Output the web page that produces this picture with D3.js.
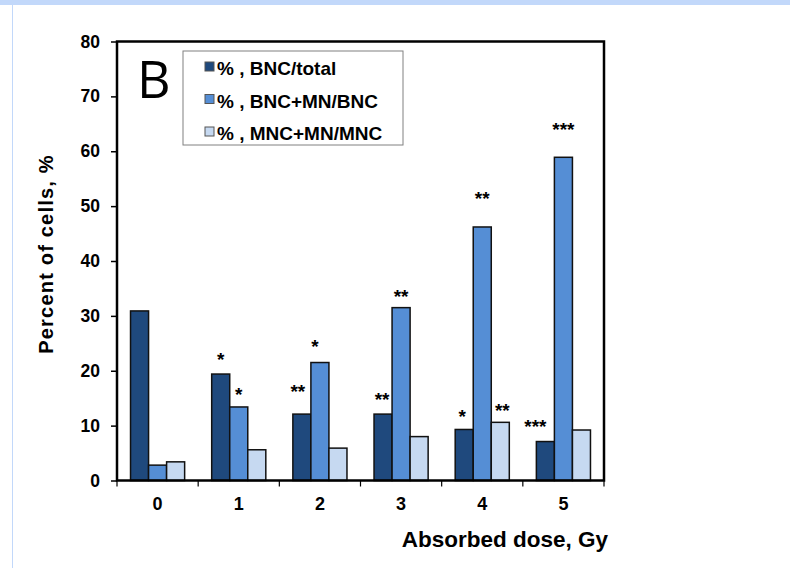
<!DOCTYPE html>
<html>
<head>
<meta charset="utf-8">
<script src="https://cdn.jsdelivr.net/npm/d3@7"></script>
<style>
  html, body { margin: 0; padding: 0; background: #fff; }
  svg { display: block; font-family: Arial, "Liberation Sans", sans-serif; }
</style>
</head>
<body>
<svg id="chart" width="790" height="568"></svg>
<script>
// dose categories (Gy)
const doses = ['0', '1', '2', '3', '4', '5'];
const seriesNames = ['% , BNC/total', '% , BNC+MN/BNC', '% , MNC+MN/MNC'];
const bncTotal = [30.9, 19.4, 12.1, 12.1, 9.3, 7.1];
const bncMnBnc = [2.8, 13.4, 21.5, 31.5, 46.2, 58.9];
const mncMnMnc = [3.4, 5.6, 5.9, 8.0, 10.6, 9.2];
const seriesColors = ['#1f497d', '#558ed5', '#c6d9f1'];
const yTicks = [0, 10, 20, 30, 40, 50, 60, 70, 80];
// significance marks: [dose, series index, label, level in %, nudge px]
const marks = [
  ['1', 0, '*', 22.9, 0], ['1', 1, '*', 16.5, 0],
  ['2', 0, '**', 17.0, -4], ['2', 1, '*', 25.2, -5],
  ['3', 0, '**', 15.5, -1], ['3', 1, '**', 34.4, 0],
  ['4', 0, '*', 12.4, -2], ['4', 1, '**', 52.2, 0], ['4', 2, '**', 13.6, 2],
  ['5', 0, '***', 10.7, -10], ['5', 1, '***', 64.8, 0]
];

const series = [bncTotal, bncMnBnc, mncMnMnc];
const svg = d3.select('#chart');

// page decoration (slide edge)
svg.append('rect').attr('x', 0).attr('y', 0).attr('width', 790).attr('height', 5).attr('fill', '#c2d8fa');
svg.append('rect').attr('x', 12).attr('y', 5).attr('width', 1).attr('height', 563).attr('fill', '#c2d8fa');

const pl = 117, pr = 604, pt = 41.5, pb = 480.5;
const x = d3.scaleBand().domain(doses).range([pl, pr]);
const bw = x.bandwidth();
const x1 = d3.scaleBand().domain([0, 1, 2]).range([bw / 6, bw * 5 / 6]);
const y = d3.scaleLinear().domain([0, 80]).range([pb, pt]);

// bars
const groups = svg.append('g').selectAll('g').data(doses).join('g')
  .attr('transform', d => `translate(${x(d)},0)`);
groups.selectAll('rect').data((d, i) => series.map((s, k) => ({ k, v: s[i] }))).join('rect')
  .attr('x', d => x1(d.k))
  .attr('y', d => y(d.v))
  .attr('width', x1.bandwidth())
  .attr('height', d => y(0) - y(d.v))
  .attr('fill', d => seriesColors[d.k])
  .attr('stroke', '#111')
  .attr('stroke-width', 1.5);

// significance asterisks
svg.append('g').selectAll('text').data(marks).join('text')
  .attr('x', d => x(d[0]) + x1(d[1]) + x1.bandwidth() / 2 + d[4])
  .attr('y', d => y(d[3]) + 11)
  .attr('text-anchor', 'middle')
  .attr('font-size', 19).attr('font-weight', 'bold').attr('fill', '#000')
  .text(d => d[2]);

// y axis
const yAxis = svg.append('g').attr('transform', `translate(${pl},0)`)
  .call(d3.axisLeft(y).tickValues(yTicks).tickSize(6).tickSizeOuter(0).tickPadding(11));
yAxis.select('.domain').remove();
yAxis.selectAll('line').attr('stroke', '#000').attr('stroke-width', 1.5);
yAxis.selectAll('text').attr('font-size', 17.5).attr('font-weight', 'bold').attr('fill', '#000')
  .attr('font-family', 'Arial, "Liberation Sans", sans-serif');

// x axis ticks at category boundaries
const xb = doses.map(d => x(d)).concat([pr]);
svg.append('g').selectAll('line').data(xb).join('line')
  .attr('x1', d => d).attr('x2', d => d)
  .attr('y1', pb).attr('y2', pb + 6)
  .attr('stroke', '#000').attr('stroke-width', 1.2);
svg.append('g').selectAll('text').data(doses).join('text')
  .attr('x', d => x(d) + bw / 2)
  .attr('y', 510)
  .attr('text-anchor', 'middle')
  .attr('font-size', 18).attr('font-weight', 'bold').attr('fill', '#000')
  .text(d => d);

// plot frame
svg.append('rect')
  .attr('x', pl).attr('y', pt)
  .attr('width', pr - pl).attr('height', pb - pt)
  .attr('fill', 'none').attr('stroke', '#000').attr('stroke-width', 2.5);

// panel letter
svg.append('text').attr('x', 137).attr('y', 97.5)
  .attr('font-size', 52).attr('font-family', '"Open Sans", "Liberation Sans", sans-serif')
  .attr('fill', '#000').text('B');

// legend
const lg = svg.append('g');
lg.append('rect').attr('x', 183).attr('y', 51).attr('width', 220).attr('height', 94)
  .attr('fill', '#fff').attr('stroke', '#808080').attr('stroke-width', 1);
const rows = lg.selectAll('g').data(seriesNames).join('g')
  .attr('transform', (d, i) => `translate(0,${75 + i * 32.5})`);
rows.append('rect').attr('x', 205).attr('y', -13).attr('width', 9).attr('height', 9)
  .attr('fill', (d, i) => seriesColors[i]).attr('stroke', '#555').attr('stroke-width', 1);
rows.append('text').attr('x', 217).attr('y', 0)
  .attr('font-size', 19).attr('font-weight', 'bold').attr('fill', '#000')
  .text(d => d);

// axis titles
svg.append('text')
  .attr('transform', 'translate(53,254) rotate(-90)')
  .attr('text-anchor', 'middle')
  .attr('font-size', 20).attr('font-weight', 'bold').attr('letter-spacing', 1.2).attr('fill', '#000')
  .text('Percent of cells, %');
svg.append('text')
  .attr('x', 505).attr('y', 547)
  .attr('text-anchor', 'middle')
  .attr('font-size', 22.5).attr('font-weight', 'bold').attr('fill', '#000')
  .text('Absorbed dose, Gy');
</script>
</body>
</html>
